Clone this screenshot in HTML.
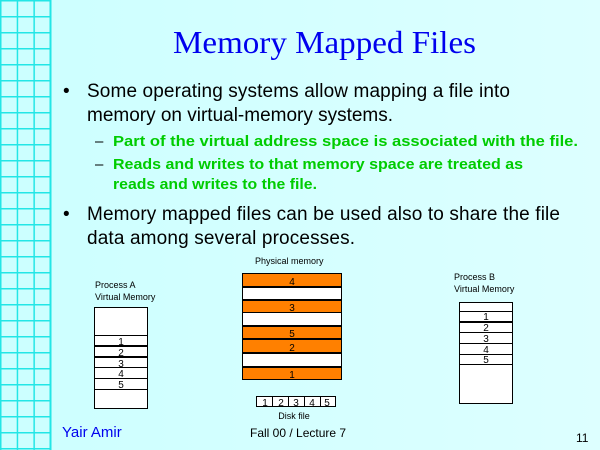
<!DOCTYPE html>
<html><head><meta charset="utf-8"><style>
html,body{margin:0;padding:0;background:#d6ffff;}
svg{display:block}
</style></head><body>
<svg width="600" height="450" xmlns="http://www.w3.org/2000/svg" font-family="Liberation Sans, sans-serif">
<defs>
<linearGradient id="bg" x1="0" x2="1" y1="0" y2="0"><stop offset="0" stop-color="#ccffff"/><stop offset="1" stop-color="#ddffff"/></linearGradient>
<pattern id="grid" width="16.7" height="16" patternUnits="userSpaceOnUse" y="0">
<rect x="0" y="0" width="1.5" height="16" fill="#22e6e6"/>
<rect x="0" y="0" width="16.7" height="1.5" fill="#22e6e6"/>
</pattern>
</defs>
<rect width="600" height="450" fill="url(#bg)"/>
<rect x="0" y="0" width="50" height="450" fill="#ccffff"/>
<rect x="0" y="0" width="50" height="450" fill="url(#grid)"/>
<rect x="49.5" y="0" width="2" height="450" fill="#22e6e6"/>

<text x="173" y="53" font-family="Liberation Serif, serif" font-size="32" fill="#0000ee" textLength="303" lengthAdjust="spacingAndGlyphs">Memory Mapped Files</text>

<g font-size="19" fill="#000">
<text x="63" y="97">•</text>
<text x="87" y="97" textLength="423">Some operating systems allow mapping a file into</text>
<text x="87" y="121" textLength="306">memory on virtual-memory systems.</text>
<text x="63" y="220">•</text>
<text x="87" y="220" textLength="473">Memory mapped files can be used also to share the file</text>
<text x="87" y="244" textLength="268">data among several processes.</text>
</g>
<g font-size="15" font-weight="bold" fill="#00cc00">
<text x="95" y="146" font-weight="normal" fill="#000">–</text>
<text x="113" y="146" textLength="465" lengthAdjust="spacingAndGlyphs">Part of the virtual address space is associated with the file.</text>
<text x="95" y="169" font-weight="normal" fill="#000">–</text>
<text x="113" y="169" textLength="410" lengthAdjust="spacingAndGlyphs">Reads and writes to that memory space are treated as</text>
<text x="113" y="189" textLength="204" lengthAdjust="spacingAndGlyphs">reads and writes to the file.</text>
</g>

<g font-size="9" fill="#000">
<text x="95" y="288">Process A</text>
<text x="95" y="300">Virtual Memory</text>
<text x="255" y="264">Physical memory</text>
<text x="454" y="280">Process B</text>
<text x="454" y="292">Virtual Memory</text>
<text x="294" y="419" text-anchor="middle">Disk file</text>
</g>

<g stroke="#000" fill="#fff" stroke-width="1">
<rect x="94.5" y="307.5" width="53" height="101"/>
<line x1="94" y1="335.5" x2="147" y2="335.5"/>
<line x1="94" y1="367.5" x2="147" y2="367.5"/>
<line x1="94" y1="378.5" x2="147" y2="378.5"/>
<line x1="94" y1="389.5" x2="147" y2="389.5"/>
</g>
<rect x="94" y="345" width="54" height="2" fill="#000"/>
<rect x="94" y="356" width="54" height="2" fill="#000"/>
<g font-size="10" text-anchor="middle" fill="#000">
<text x="121" y="345">1</text><text x="121" y="356">2</text><text x="121" y="367">3</text><text x="121" y="377">4</text><text x="121" y="388">5</text>
</g>

<rect x="242.5" y="273.5" width="99" height="106" fill="#fff" stroke="#000"/>
<g fill="#ff8000" stroke="#000">
<rect x="242.5" y="273.5" width="99" height="13"/>
<rect x="242.5" y="299.5" width="99" height="13"/>
<rect x="242.5" y="326.5" width="99" height="12"/>
<rect x="242.5" y="339.5" width="99" height="13"/>
<rect x="242.5" y="366.5" width="99" height="13"/>
</g>
<g fill="#000">
<rect x="242" y="286" width="100" height="2"/>
<rect x="242" y="299" width="100" height="2"/>
<rect x="242" y="325" width="100" height="2"/>
<rect x="242" y="338" width="100" height="2"/>
<rect x="242" y="352" width="100" height="2"/>
<rect x="242" y="366" width="100" height="2"/>
</g>
<g font-size="10" text-anchor="middle" fill="#000">
<text x="292" y="285">4</text><text x="292" y="311">3</text><text x="292" y="337">5</text><text x="292" y="351">2</text><text x="292" y="378">1</text>
</g>

<g stroke="#000" fill="#fff">
<rect x="256.5" y="396.5" width="79" height="10"/>
<line x1="272.5" y1="396" x2="272.5" y2="407"/>
<line x1="288.5" y1="396" x2="288.5" y2="407"/>
<line x1="304.5" y1="396" x2="304.5" y2="407"/>
<line x1="320.5" y1="396" x2="320.5" y2="407"/>
</g>
<g font-size="10" text-anchor="middle" fill="#000">
<text x="265" y="406">1</text><text x="281" y="406">2</text><text x="296" y="406">3</text><text x="312" y="406">4</text><text x="327" y="406">5</text>
</g>

<g stroke="#000" fill="#fff">
<rect x="459.5" y="302.5" width="53" height="101"/>
<line x1="459" y1="311.5" x2="512" y2="311.5"/>
<line x1="459" y1="332.5" x2="512" y2="332.5"/>
<line x1="459" y1="343.5" x2="512" y2="343.5"/>
<line x1="459" y1="354.5" x2="512" y2="354.5"/>
<line x1="459" y1="364.5" x2="512" y2="364.5"/>
</g>
<rect x="459" y="321" width="54" height="2" fill="#000"/>
<g font-size="10" text-anchor="middle" fill="#000">
<text x="486" y="320">1</text><text x="486" y="331">2</text><text x="486" y="342">3</text><text x="486" y="353">4</text><text x="486" y="363">5</text>
</g>

<text x="62" y="437" font-size="15" fill="#0000ee">Yair Amir</text>
<text x="250" y="437" font-size="12" fill="#000">Fall 00 / Lecture 7</text>
<text x="576" y="442" font-size="12" fill="#000">11</text>
</svg>
</body></html>
